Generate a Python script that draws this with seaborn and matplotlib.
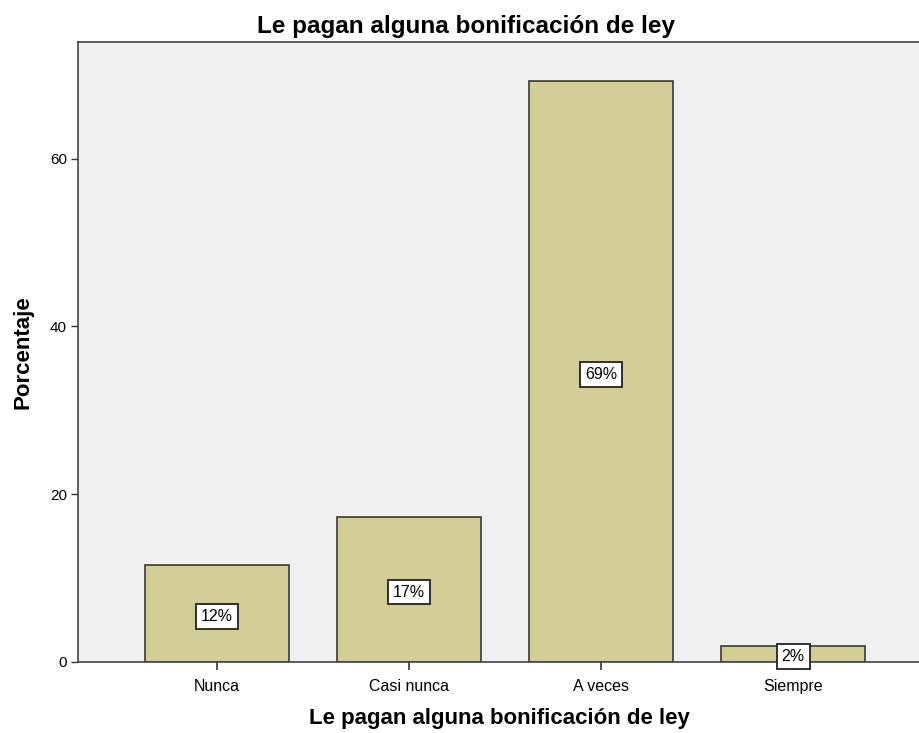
import matplotlib
matplotlib.use("Agg")
import matplotlib.pyplot as plt
import seaborn as sns
import pandas as pd

# values (percent of respondents)
categories = ["Nunca", "Casi nunca", "A veces", "Siempre"]
percent = [11.5, 17.3, 69.2, 1.9]
y_ticks = [0, 20, 40, 60]

df = pd.DataFrame({"categoria": categories, "porcentaje": percent})

sns.set_theme(style="white")
plt.rcParams["font.family"] = ["Liberation Sans", "DejaVu Sans"]
plt.rcParams["text.color"] = "black"
plt.rcParams["xtick.color"] = "black"
plt.rcParams["ytick.color"] = "black"
plt.rcParams["axes.labelcolor"] = "black"

fig = plt.figure(figsize=(9.2, 7.33), dpi=100)
ax = fig.add_axes([0.0848, 0.0969, 0.9152, 0.8458])
ax.set_facecolor("#F0F0F0")

sns.barplot(data=df, x="categoria", y="porcentaje", color="#D3CE97",
            saturation=1, width=0.75, edgecolor="#3A3A3A", linewidth=1.2, ax=ax)

# percentage boxes in the middle of each bar
for i, v in enumerate(percent):
    ax.annotate(f"{v:.0f}%", xy=(i, v / 2), xytext=(0, -2), textcoords="offset points",
                ha="center", va="center", fontsize=11.5,
                bbox=dict(boxstyle="square,pad=0.3", fc="white", ec="#222222", lw=1.3))

ax.set_xlim(-0.724, 3.66)
ax.set_ylim(0, 73.9)
ax.set_yticks(y_ticks)
ax.set_yticklabels([str(t) for t in y_ticks], fontsize=11)
ax.tick_params(axis="x", labelsize=11.5, length=6, width=1.2, color="#333333", pad=6, bottom=True)
ax.tick_params(axis="y", length=5, width=1, color="#333333", pad=3, left=True)

for side in ["left", "bottom", "top"]:
    ax.spines[side].set_color("#444444")
    ax.spines[side].set_linewidth(1.2)
ax.spines["right"].set_visible(False)

fig.text(466 / 920, 1 - 26 / 733, "Le pagan alguna bonificación de ley", ha="center", va="center",
         fontsize=17.5, fontweight="bold")
ax.set_xlabel("Le pagan alguna bonificación de ley", fontsize=16, fontweight="bold", labelpad=10)
ax.set_ylabel("Porcentaje", fontsize=16, fontweight="bold", labelpad=12)

fig.savefig("out.png", dpi=100)
